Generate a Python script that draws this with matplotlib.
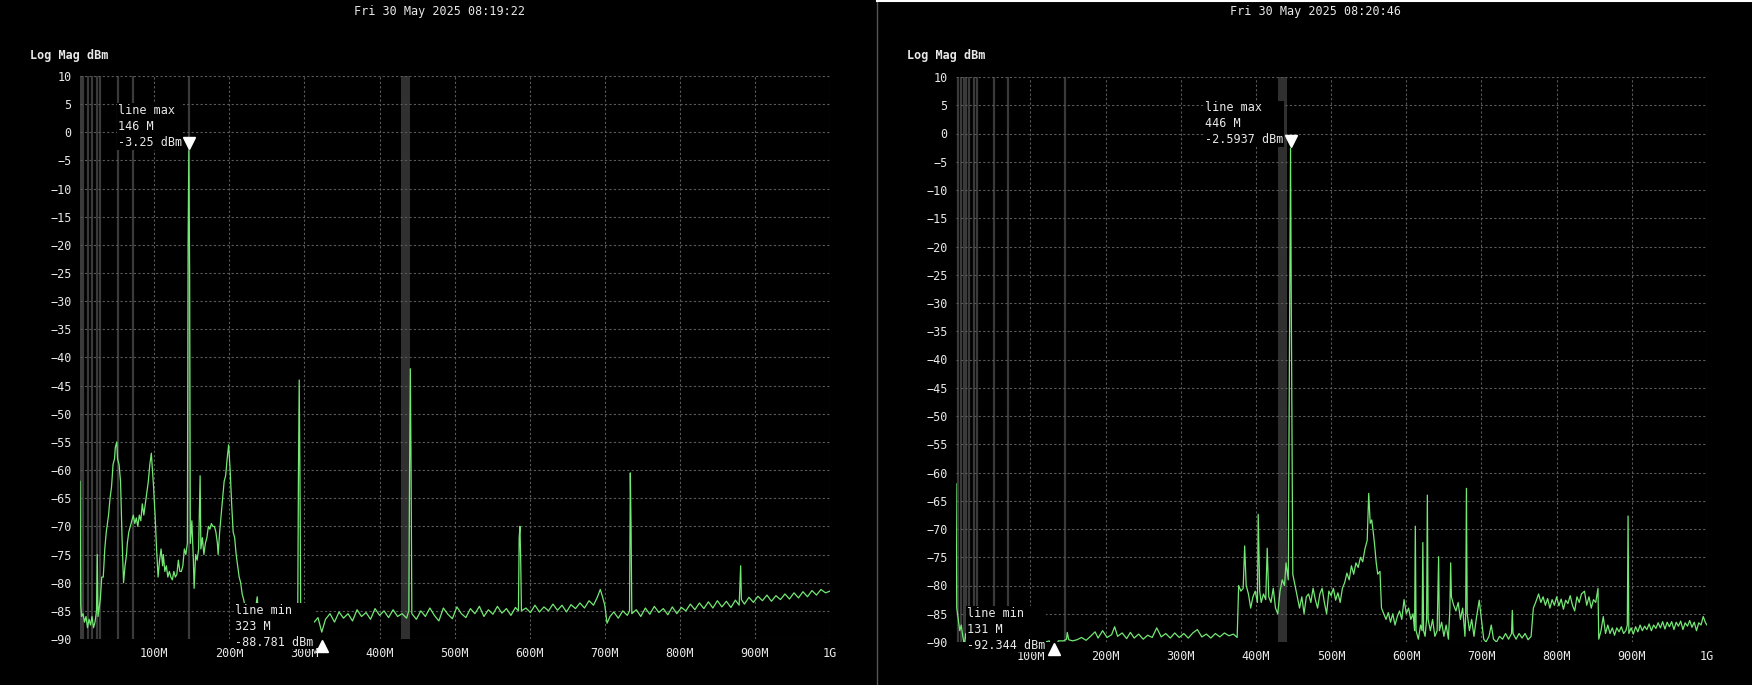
import matplotlib
matplotlib.use("Agg")
import matplotlib.pyplot as plt
from matplotlib.lines import Line2D

FONT = "DejaVu Sans Mono"
C_TRACE = "#74e874"
C_GRID = "#5a5a5a"
C_MARK = "#3a3a3a"
C_TEXT = "#e8e8e8"

titles = ["Fri 30 May 2025 08:19:22", "Fri 30 May 2025 08:20:46"]
y_ticks = list(range(10, -91, -5))
x_ticks = [100, 200, 300, 400, 500, 600, 700, 800, 900, 1000]
x_labels = ["100M", "200M", "300M", "400M", "500M", "600M", "700M", "800M", "900M", "1G"]

# (freq MHz, dBm)
left_trace = [
    (1, -62), (2, -84), (3, -86), (5, -85.5), (7, -87), (9, -86), (11, -88), (13, -86.5), (15, -87.5),
    (17, -86), (19, -88), (21, -87), (23, -85), (24, -75), (25, -86), (27, -84), (28, -83), (30, -79),
    (32, -79), (34, -74), (36, -71), (37, -70), (39, -68), (41, -65), (43, -63), (45, -59), (47, -58),
    (48, -56), (50, -55), (51, -58), (53, -59), (55, -62), (57, -72), (59, -80), (61, -77), (63, -75),
    (64, -73), (66, -71), (68, -70), (70, -69), (72, -68), (74, -69.5), (76, -68.5), (78, -70), (80, -68),
    (82, -69), (84, -66), (86, -68), (88, -66), (90, -64), (92, -62), (94, -59), (96, -57), (98, -61),
    (99, -63), (101, -68), (103, -74), (105, -79), (107, -76), (109, -74), (111, -77), (112, -75),
    (114, -78), (116, -77), (118, -79), (120, -78), (122, -79), (124, -79.5), (126, -78), (128, -79),
    (130, -78.5), (132, -76), (134, -78), (136, -78), (138, -77), (140, -74), (142, -75), (144, -73),
    (145, -20), (146, -3.25), (147, -25), (148, -73), (150, -69), (152, -76), (153, -81), (155, -75),
    (157, -76), (159, -74), (161, -61), (162, -74), (164, -72), (166, -75), (168, -73), (170, -72),
    (172, -70), (174, -70.5), (176, -69.5), (178, -70), (180, -70), (182, -71), (184, -73), (185, -75),
    (187, -71), (189, -68), (191, -65), (193, -62), (195, -61), (197, -58), (199, -55.5), (201, -60),
    (203, -66), (205, -71), (207, -72), (209, -75), (211, -77), (213, -79), (215, -80), (217, -82),
    (219, -83), (222, -85), (228, -86.5), (234, -85.5), (237, -82.5), (239, -86), (245, -87), (251, -85.5),
    (257, -86.8), (263, -86), (269, -87.3), (275, -85.8), (281, -86.5), (287, -87), (291, -86), (292, -60),
    (293, -44), (294, -62), (295, -86), (301, -87.5), (307, -86), (313, -87), (318, -86.2), (323, -88.781),
    (328, -86.5), (334, -85.5), (340, -87), (346, -85.2), (352, -86.3), (358, -85.5), (364, -86.8),
    (370, -84.8), (376, -86), (382, -85.3), (388, -86.5), (394, -84.6), (400, -85.8), (406, -85),
    (412, -86.2), (418, -84.8), (424, -86), (430, -85.5), (436, -86.3), (439, -85), (440, -60), (441, -42),
    (442, -60), (443, -85.5), (449, -86.5), (455, -85), (461, -86), (467, -84.5), (473, -85.8), (479, -86.8),
    (485, -84.5), (491, -85.6), (497, -86.4), (503, -84.3), (509, -85.5), (515, -86.2), (521, -84.6),
    (527, -85.5), (533, -84.2), (539, -86), (545, -84.8), (551, -85.6), (557, -84.2), (563, -85.4),
    (569, -84.6), (575, -85.8), (581, -84.4), (585, -85), (586, -72), (587, -70), (588, -76), (589, -85),
    (595, -84.5), (601, -85.3), (607, -84), (613, -85.2), (619, -84.3), (625, -85), (631, -83.8),
    (637, -84.9), (643, -84), (649, -85.2), (655, -83.9), (661, -84.6), (667, -83.6), (673, -84.5),
    (679, -83.2), (685, -84), (690, -82.6), (694, -81.2), (697, -82.5), (700, -84), (703, -87.2),
    (707, -86), (712, -85.2), (718, -86.3), (724, -85), (730, -85.8), (733, -85), (734, -60.5), (735, -70),
    (736, -85.5), (742, -84.8), (748, -86), (754, -84.5), (760, -85.6), (766, -84.2), (772, -85.3),
    (778, -84.6), (784, -85.7), (790, -84.3), (796, -85.5), (802, -84.4), (808, -85), (814, -83.8),
    (820, -84.8), (826, -83.6), (832, -84.6), (838, -83.4), (844, -84.5), (850, -83.2), (856, -84.3),
    (862, -83.3), (868, -84.4), (874, -83.1), (879, -84), (881, -77), (882, -83), (886, -83.8),
    (892, -82.6), (898, -83.5), (904, -82.4), (910, -83.2), (916, -82.2), (922, -83.3), (928, -82.3),
    (934, -83), (940, -82), (946, -82.9), (952, -81.8), (958, -82.7), (964, -81.6), (970, -82.5),
    (976, -81.4), (982, -82.2), (988, -81.2), (994, -81.8), (1000, -81.5),
]

right_trace = [
    (1, -62), (2, -84), (4, -86), (6, -88), (8, -87), (10, -89), (12, -90.5), (14, -88.5), (16, -90.5),
    (20, -91), (30, -91.5), (40, -91), (50, -91.5), (60, -91), (70, -91.5), (80, -91), (88, -91),
    (89, -86.5), (91, -86.5), (92, -91), (100, -91), (110, -91.5), (120, -90), (125, -89.8),
    (131, -92.344), (137, -89.8), (144, -89.8), (148, -89.5), (149, -88.3), (151, -89.6), (156, -89.8),
    (162, -89.6), (168, -89.2), (174, -89.7), (180, -89), (186, -88.2), (190, -89.3), (196, -88),
    (202, -89.2), (208, -88.7), (212, -87.3), (216, -89), (222, -88.4), (228, -89.4), (233, -88.3),
    (238, -89.3), (244, -88.6), (250, -89.5), (256, -88.8), (262, -89.2), (268, -87.5), (274, -89.1),
    (280, -88.5), (286, -89.3), (292, -88.4), (298, -89.2), (304, -88.5), (310, -89.3), (316, -88.4),
    (322, -87.8), (328, -89.1), (334, -88.6), (340, -89.3), (346, -88.5), (352, -89.1), (358, -88.4),
    (364, -88.9), (370, -88.6), (375, -89.2), (377, -80), (380, -81), (383, -80.5), (385, -73),
    (387, -80), (390, -81.5), (393, -84), (396, -82), (399, -81), (402, -83), (403, -67.4), (405, -81),
    (407, -83), (410, -81.5), (413, -82.5), (415, -73.4), (417, -82), (420, -83), (423, -80.5),
    (426, -84), (429, -85), (432, -81), (435, -79), (438, -80), (440, -76), (443, -79), (445, -30),
    (446, -2.5937), (447, -30), (449, -78), (452, -80), (455, -82), (458, -84), (461, -82), (464, -85),
    (467, -82), (470, -81.5), (473, -83), (476, -80.5), (479, -82.5), (482, -84), (485, -81.5),
    (488, -80.5), (491, -83), (494, -85), (497, -81), (500, -81.8), (503, -80.5), (506, -82.6),
    (509, -81.3), (512, -83), (515, -80.5), (518, -79.5), (521, -77.8), (524, -79), (527, -76.5),
    (530, -78), (533, -76), (536, -76.8), (539, -75), (542, -75.8), (545, -73.5), (548, -72),
    (550, -63.7), (552, -69), (554, -68.4), (556, -70.5), (558, -73), (560, -76), (562, -78),
    (565, -77.5), (567, -84), (570, -85), (573, -86), (576, -84.8), (579, -86.5), (582, -85), (585, -87),
    (588, -85.5), (591, -84.5), (594, -86), (597, -82.5), (600, -85), (603, -84), (606, -86), (609, -85),
    (611, -88), (612, -69.5), (613, -88), (616, -89.5), (619, -87), (621, -88), (622, -72.4), (623, -88),
    (625, -89), (627, -86), (628, -64), (629, -86), (632, -88), (635, -86), (638, -89), (641, -88),
    (643, -74.9), (644, -88), (647, -86.5), (650, -89), (653, -87), (656, -89.5), (658, -84), (659, -76),
    (660, -82), (663, -83.5), (666, -84.5), (669, -83), (672, -86), (675, -84), (678, -89), (679, -85),
    (680, -62.8), (681, -85), (684, -88), (687, -86), (690, -89), (693, -86), (697, -82.6), (700, -86),
    (703, -89.5), (706, -90), (710, -89), (713, -87), (716, -89.5), (720, -90), (724, -89), (728, -89.5),
    (732, -88.5), (736, -89.5), (740, -88.5), (741, -84.4), (742, -88.5), (746, -89.5), (750, -88.5),
    (754, -89.3), (758, -88.5), (762, -89.6), (766, -89), (769, -84), (772, -83), (776, -81.5), (779, -83),
    (782, -82), (785, -83.5), (788, -82.3), (791, -84), (794, -82.5), (797, -83.5), (800, -82),
    (803, -83.6), (806, -82.4), (809, -84.2), (812, -82.6), (815, -83.2), (818, -81.8), (821, -83.5),
    (824, -84.5), (827, -82), (830, -83), (833, -81.5), (837, -81), (840, -83.5), (843, -82), (846, -84),
    (849, -82.5), (852, -83), (855, -80.5), (856, -89.5), (859, -88), (862, -85.5), (865, -88.5),
    (868, -87), (871, -88.5), (874, -87.5), (877, -88.8), (880, -87.5), (883, -88.2), (886, -87.3),
    (889, -88.5), (892, -88), (894, -87), (895, -67.7), (896, -88.5), (899, -87.5), (902, -88.6),
    (905, -87.3), (908, -88.2), (911, -87), (914, -88), (917, -87.2), (920, -87.8), (923, -86.8),
    (926, -88), (929, -87), (932, -87.6), (935, -86.6), (938, -87.5), (941, -86.4), (944, -87.7),
    (947, -86.5), (950, -87.3), (953, -86.4), (956, -87.8), (959, -86.5), (962, -87.2), (965, -86.3),
    (968, -87.8), (971, -86.6), (974, -87.2), (977, -86.2), (980, -87.4), (983, -86.5), (986, -88),
    (989, -86.6), (992, -87), (995, -85.5), (998, -86.6), (1000, -87),
]

# gray marker lines / bands (MHz)
left_lines = [2, 5, 11, 17, 23.5, 28, 51, 71, 146]
right_lines = [3, 7, 11, 14, 18, 24.8, 29, 51, 70, 146]
band = (429, 441)

left_max = (146, -3.25, "line max\n146 M\n-3.25 dBm")
left_min = (323, -88.781, "line min\n323 M\n-88.781 dBm")
right_max = (446, -2.5937, "line max\n446 M\n-2.5937 dBm")
right_min = (131, -92.344, "line min\n131 M\n-92.344 dBm")

W, H = 1752, 685
fig = plt.figure(figsize=(W / 100, H / 100), dpi=100, facecolor="black")


def panel(rect, trace, lines, mx, mn, title, x_off):
    ax = fig.add_axes(rect)
    ax.set_facecolor("black")
    for f in lines:
        ax.axvline(f, color=C_MARK, lw=1.6, zorder=1)
    ax.axvspan(*band, color="#303030", lw=0, zorder=1)
    fx = [p[0] for p in trace]
    fy = [p[1] for p in trace]
    ax.plot(fx, fy, color=C_TRACE, lw=0.9, zorder=3)
    ax.set_xlim(1, 1000)
    ax.set_ylim(-90, 10)
    ax.set_xticks(x_ticks, x_labels)
    ax.set_yticks(y_ticks)
    ax.grid(True, color=C_GRID, ls=(0, (2, 2)), lw=0.8, zorder=0)
    ax.tick_params(length=0, colors=C_TEXT, labelsize=8.5, pad=6)
    for lab in ax.get_xticklabels() + ax.get_yticklabels():
        lab.set_family(FONT)
    for s in ax.spines.values():
        s.set_visible(False)

    # max marker + label
    ax.plot(mx[0], mx[1] + 1.3, marker="v", color="white", ms=8, zorder=5, clip_on=False)
    ax.annotate(mx[2], (mx[0], mx[1] + 1.3), xytext=(-5, -4), textcoords="offset points",
                ha="right", va="bottom", multialignment="left", color=C_TEXT, fontsize=8.5,
                family=FONT, linespacing=1.3, zorder=6,
                bbox=dict(facecolor="black", edgecolor="none", pad=0.5))
    # min marker + label (drawn at bottom edge)
    ax.plot(mn[0], -91.2, marker="^", color="white", ms=8, zorder=5, clip_on=False)
    ax.annotate(mn[2], (mn[0], -91.2), xytext=(-6, -2), textcoords="offset points",
                ha="right", va="bottom", multialignment="left", color=C_TEXT, fontsize=8.5,
                family=FONT, linespacing=1.3, zorder=6, annotation_clip=False,
                bbox=dict(facecolor="black", edgecolor="none", pad=0.5))

    fig.text((x_off + 439) / W, 1 - 11 / H, title, ha="center", va="center",
             color=C_TEXT, fontsize=8.5, family=FONT)
    fig.text((x_off + 30) / W, 1 - 56 / H, "Log Mag dBm", ha="left", va="center",
             color=C_TEXT, fontsize=8.5, family=FONT, weight="bold")
    return ax


panel([80 / W, 46 / H, 750 / W, 563 / H], left_trace, left_lines, left_max, left_min, titles[0], 0)
panel([956 / W, 43 / H, 751 / W, 565 / H], right_trace, right_lines, right_max, right_min, titles[1], 877)

# divider and top border of the second screenshot
fig.add_artist(Line2D([877 / W, 877 / W], [0, 1], color="#555555", lw=1))
fig.add_artist(Line2D([877 / W, 1], [1 - 1 / H, 1 - 1 / H], color="white", lw=1.5))

fig.savefig("out.png", dpi=100, facecolor="black")
